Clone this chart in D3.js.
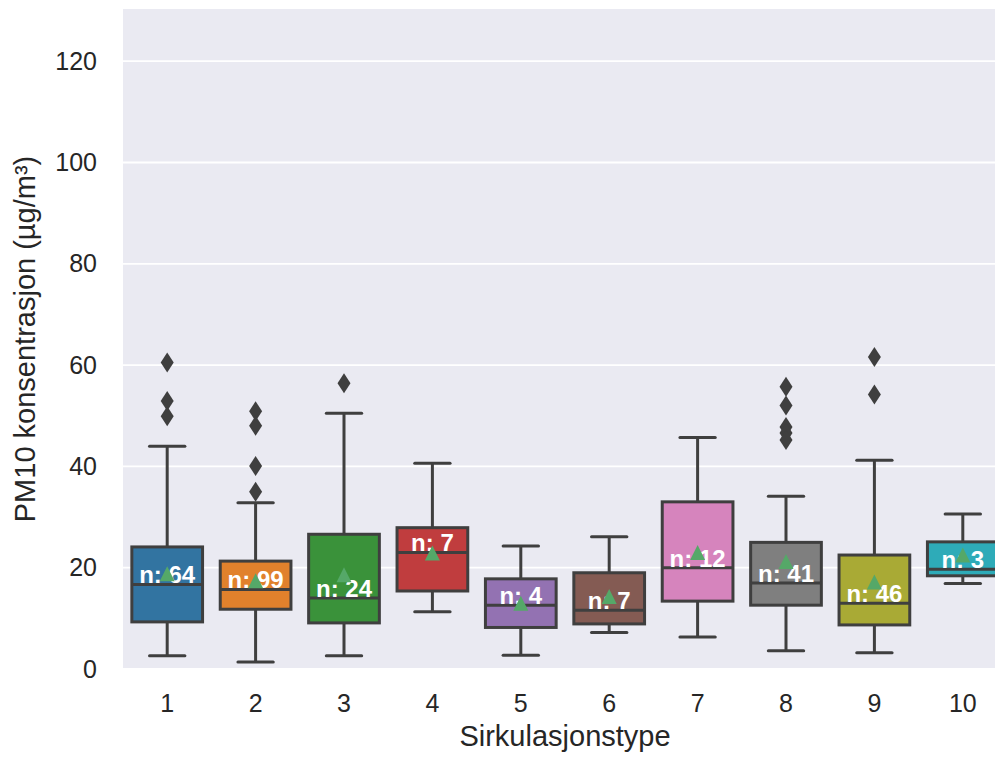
<!DOCTYPE html>
<html><head><meta charset="utf-8">
<script src="https://cdn.jsdelivr.net/npm/d3@7"></script>
<style>
body{margin:0;background:#fff}
svg{display:block}
text{font-family:"Liberation Sans", Arial, sans-serif}
</style>
</head><body>
<svg id="c" width="995" height="757"></svg>
<script>
// ---- data ----
const categories = ["1","2","3","4","5","6","7","8","9","10"];
const q1         = [9.3, 11.8, 9.1, 15.4, 8.2, 8.9, 13.4, 12.6, 8.7, 18.4];
const medians    = [16.7, 15.7, 14.0, 23.0, 12.6, 11.6, 20.0, 17.0, 13.0, 19.7];
const q3         = [24.1, 21.3, 26.6, 27.9, 17.8, 19.0, 33.0, 25.0, 22.5, 25.1];
const whiskerLow = [2.6, 1.4, 2.6, 11.3, 2.7, 7.2, 6.3, 3.6, 3.2, 16.9];
const whiskerHigh= [44.0, 32.8, 50.5, 40.6, 24.3, 26.1, 45.7, 34.1, 41.2, 30.6];
const means      = [18.8, 17.4, 18.6, 22.9, 13.0, 14.3, 23.0, 21.2, 17.2, 22.5];
const counts     = [64, 99, 24, 7, 4, 7, 12, 41, 46, 3];
const outliers   = [[60.5,52.9,49.9],[50.9,48.0,40.1,35.0],[56.4],[],[],[],[],[55.7,52.0,47.8,46.6,45.2],[61.6,54.2],[]];
const colors     = ["#3274A1","#E1812C","#3A923A","#C03D3E","#9372B2","#845B53","#D684BD","#7F7F7F","#A9AA35","#2EABB8"];
const yTicks     = [0,20,40,60,80,100,120];
const yMax       = 130.3;
const xLabel = "Sirkulasjonstype";
const yLabel = "PM10 konsentrasjon (µg/m³)";

// ---- layout ----
const plotLeft = 123, plotRight = 1007, plotTop = 9, plotBottom = 669;
const lineCol = "#3f3f3f", lw = 3;

const svg = d3.select("#c");
const x = d3.scaleBand().domain(categories).range([plotLeft, plotRight]).padding(0);
const y = d3.scaleLinear().domain([0, yMax]).range([plotBottom, plotTop]);

svg.append("rect").attr("x", plotLeft).attr("y", plotTop)
  .attr("width", plotRight - plotLeft).attr("height", plotBottom - plotTop)
  .attr("fill", "#EAEAF2");

svg.append("g").selectAll("line").data(yTicks).join("line")
  .attr("x1", plotLeft).attr("x2", plotRight)
  .attr("y1", d => y(d)).attr("y2", d => y(d))
  .attr("stroke", "#fff").attr("stroke-width", 1.8);

// axes
const ya = svg.append("g").attr("transform", `translate(${plotLeft},0)`)
  .call(d3.axisLeft(y).tickValues(yTicks).tickSize(0).tickPadding(26));
ya.select(".domain").remove();
ya.selectAll("text").attr("font-size", 25).attr("fill", "#262626")
  .style("font-family", '"Liberation Sans", Arial, sans-serif');

const xa = svg.append("g").attr("transform", `translate(0,${plotBottom})`)
  .call(d3.axisBottom(x).tickSize(0).tickPadding(25));
xa.select(".domain").remove();
xa.selectAll("text").attr("font-size", 25).attr("fill", "#262626")
  .style("font-family", '"Liberation Sans", Arial, sans-serif');

svg.append("text").attr("x", (plotLeft + plotRight) / 2).attr("y", 746)
  .attr("text-anchor", "middle").attr("font-size", 29).attr("fill", "#262626").text(xLabel);
svg.append("text").attr("transform", `translate(35,${(plotTop + plotBottom) / 2}) rotate(-90)`)
  .attr("text-anchor", "middle").attr("font-size", 29).attr("fill", "#262626").text(yLabel);

// boxes
const data = categories.map((c, i) => ({
  c, q1: q1[i], med: medians[i], q3: q3[i], lo: whiskerLow[i], hi: whiskerHigh[i],
  mean: means[i], n: counts[i], out: outliers[i], color: colors[i]
}));
const bw = x.bandwidth() * 0.8;
const cx = d => x(d.c) + x.bandwidth() / 2;

const g = svg.append("g");
const bx = g.selectAll("g.box").data(data).join("g").attr("class", "box");

// whiskers
bx.append("line").attr("x1", cx).attr("x2", cx).attr("y1", d => y(d.q3)).attr("y2", d => y(d.hi))
  .attr("stroke", lineCol).attr("stroke-width", lw);
bx.append("line").attr("x1", cx).attr("x2", cx).attr("y1", d => y(d.q1)).attr("y2", d => y(d.lo))
  .attr("stroke", lineCol).attr("stroke-width", lw);
// caps
bx.append("line").attr("x1", d => cx(d) - bw / 4).attr("x2", d => cx(d) + bw / 4)
  .attr("y1", d => y(d.hi)).attr("y2", d => y(d.hi))
  .attr("stroke", lineCol).attr("stroke-width", lw).attr("stroke-linecap", "round");
bx.append("line").attr("x1", d => cx(d) - bw / 4).attr("x2", d => cx(d) + bw / 4)
  .attr("y1", d => y(d.lo)).attr("y2", d => y(d.lo))
  .attr("stroke", lineCol).attr("stroke-width", lw).attr("stroke-linecap", "round");
// box
bx.append("rect").attr("x", d => cx(d) - bw / 2).attr("width", bw)
  .attr("y", d => y(d.q3)).attr("height", d => y(d.q1) - y(d.q3))
  .attr("fill", d => d.color).attr("stroke", lineCol).attr("stroke-width", lw);
// median
bx.append("line").attr("x1", d => cx(d) - bw / 2).attr("x2", d => cx(d) + bw / 2)
  .attr("y1", d => y(d.med)).attr("y2", d => y(d.med))
  .attr("stroke", lineCol).attr("stroke-width", lw);
// outliers (thin diamonds)
bx.each(function(d) {
  d3.select(this).selectAll("path.out").data(d.out).join("path").attr("class", "out")
    .attr("d", v => {
      const px = cx(d), py = y(v), hw = 6.5, hh = 10;
      return `M${px},${py - hh}L${px + hw},${py}L${px},${py + hh}L${px - hw},${py}Z`;
    })
    .attr("fill", lineCol);
});
// count labels
bx.append("text").attr("x", cx).attr("y", d => y(d.med) - 1)
  .attr("text-anchor", "middle").attr("font-size", 24).attr("font-weight", "bold")
  .attr("fill", "#fff").text(d => "n: " + d.n);
// means (drawn on top)
bx.append("path").attr("d", d => {
  const px = cx(d), py = y(d.mean), s = 7.5;
  return `M${px},${py - s}L${px + s},${py + s}L${px - s},${py + s}Z`;
}).attr("fill", "#55A868");
</script>
</body></html>
